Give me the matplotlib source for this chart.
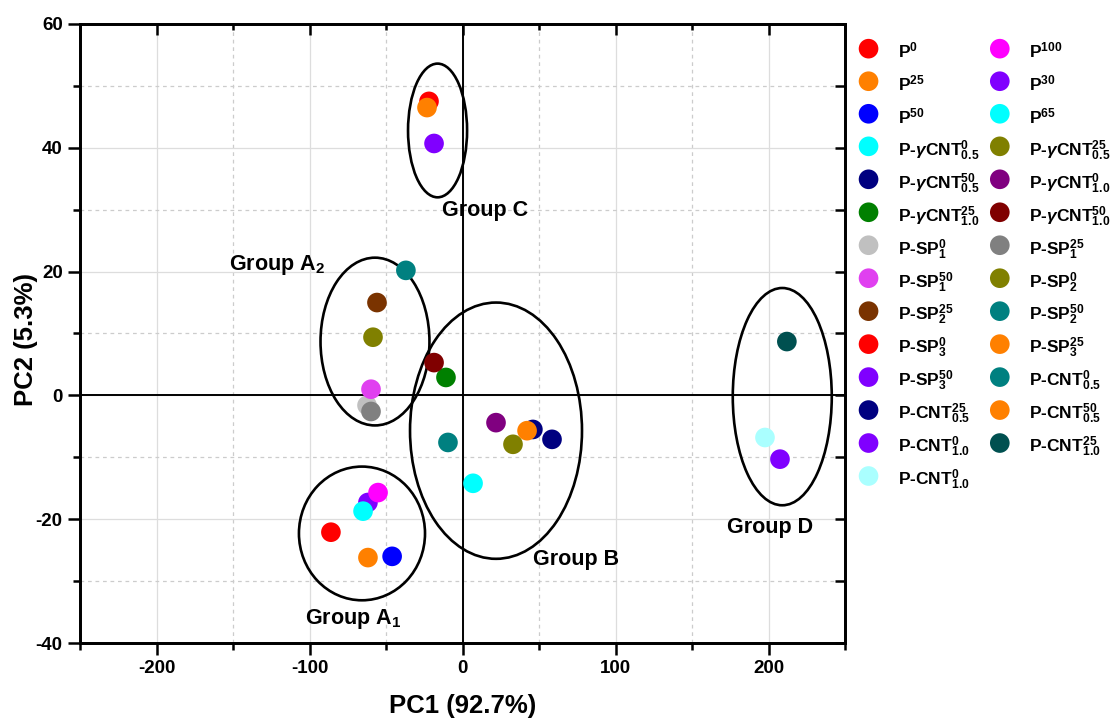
import matplotlib
matplotlib.use('Agg')
import matplotlib.pyplot as plt
from matplotlib.patches import Ellipse
from matplotlib.ticker import MultipleLocator

plt.rcParams['font.family'] = ['Liberation Sans', 'DejaVu Sans']
plt.rcParams['font.weight'] = 'bold'
plt.rcParams['axes.labelweight'] = 'bold'
plt.rcParams['axes.unicode_minus'] = False
plt.rcParams['mathtext.fontset'] = 'custom'
plt.rcParams['mathtext.rm'] = 'Liberation Sans:bold'
plt.rcParams['mathtext.bf'] = 'Liberation Sans:bold'
plt.rcParams['mathtext.it'] = 'Liberation Sans:italic:bold'

# samples, in legend order (column 1 then column 2)
labels = [
    'P$^{0}$', 'P$^{25}$', 'P$^{50}$',
    r'P-$\gamma$CNT$^{0}_{0.5}$', r'P-$\gamma$CNT$^{50}_{0.5}$', r'P-$\gamma$CNT$^{25}_{1.0}$',
    'P-SP$^{0}_{1}$', 'P-SP$^{50}_{1}$', 'P-SP$^{25}_{2}$', 'P-SP$^{0}_{3}$', 'P-SP$^{50}_{3}$',
    'P-CNT$^{25}_{0.5}$', 'P-CNT$^{0}_{1.0}$', 'P-CNT$^{0}_{1.0}$',
    'P$^{100}$', 'P$^{30}$', 'P$^{65}$',
    r'P-$\gamma$CNT$^{25}_{0.5}$', r'P-$\gamma$CNT$^{0}_{1.0}$', r'P-$\gamma$CNT$^{50}_{1.0}$',
    'P-SP$^{25}_{1}$', 'P-SP$^{0}_{2}$', 'P-SP$^{50}_{2}$', 'P-SP$^{25}_{3}$',
    'P-CNT$^{0}_{0.5}$', 'P-CNT$^{50}_{0.5}$', 'P-CNT$^{25}_{1.0}$',
]
colors = [
    '#ff0000', '#ff8000', '#0000ff',
    '#00ffff', '#000080', '#008000',
    '#c0c0c0', '#e040f0', '#7a3300', '#ff0000', '#8000ff',
    '#000080', '#8000ff', '#aaffff',
    '#ff00ff', '#8000ff', '#00ffff',
    '#808000', '#800080', '#800000',
    '#808080', '#808000', '#008080', '#ff8000',
    '#008080', '#ff8000', '#005050',
]
pc1 = [
    -86.0, -61.8, -46.0,
    6.9, 46.0, -10.8,
    -62.4, -59.8, -55.9, -21.9, -18.6,
    58.5, 207.5, 197.7,
    -55.2, -61.8, -65.0,
    33.0, 21.9, -18.6,
    -59.8, -58.5, -37.0, -23.2,
    -9.5, 42.2, 212.0,
]
pc2 = [
    -22.1, -26.2, -26.0,
    -14.2, -5.5, 2.9,
    -1.6, 1.0, 15.0, 47.5, 40.7,
    -7.1, -10.3, -6.8,
    -15.7, -17.3, -18.7,
    -7.9, -4.4, 5.3,
    -2.6, 9.4, 20.2, 46.5,
    -7.6, -5.7, 8.7,
]

# cluster ellipses
group_names = ['Group C', 'Group A$_2$', 'Group B', 'Group A$_1$', 'Group D']
group_cx = [-16.3, -57.2, 21.9, -65.7, 209.0]
group_cy = [42.8, 8.7, -5.7, -22.3, -0.2]
group_w = [38.6, 71.2, 112.4, 82.4, 64.7]
group_h = [21.6, 27.1, 41.4, 21.6, 35.1]
label_x = [15.0, -121.0, 74.2, -71.6, 201.0]
label_y = [29.9, 21.0, -26.5, -36.2, -21.3]

fig = plt.figure(figsize=(11.17, 7.27), dpi=100)
ax = fig.add_axes([80 / 1117, 1 - 643 / 727, 765 / 1117, 619 / 727])

ax.set_xlim(-250, 250)
ax.set_ylim(-40, 60)
ax.xaxis.set_major_locator(MultipleLocator(100))
ax.xaxis.set_minor_locator(MultipleLocator(50))
ax.yaxis.set_major_locator(MultipleLocator(20))
ax.yaxis.set_minor_locator(MultipleLocator(10))

ax.grid(which='major', color='#dddddd', lw=0.9, ls='-', zorder=0)
ax.grid(which='minor', color='#cccccc', lw=0.9, ls=(0, (3, 3)), zorder=0)
ax.set_axisbelow(True)

ax.axhline(0, color='black', lw=1.4, zorder=1)
ax.axvline(0, color='black', lw=1.4, zorder=1)

for cx, cy, w, h in zip(group_cx, group_cy, group_w, group_h):
    ax.add_patch(Ellipse((cx, cy), w, h, fill=False, ec='black', lw=1.9, zorder=2))
for name, tx, ty in zip(group_names, label_x, label_y):
    ax.text(tx, ty, name, fontsize=15.5, fontweight='bold', ha='center', va='center', zorder=4)

# P100 sits on top of P30 in the original
draw_order = sorted(range(len(labels)), key=lambda i: labels[i] == 'P$^{100}$')
handles = [None] * len(labels)
for i in draw_order:
    handles[i] = ax.scatter(pc1[i], pc2[i], s=200, color=colors[i], edgecolors='none',
                            label=labels[i], zorder=3)

for side in ['left', 'right', 'top', 'bottom']:
    ax.spines[side].set_linewidth(1.8)
ax.tick_params(which='both', direction='out', width=1.8, labelsize=13.5, pad=4,
               top=False, right=False)
ax.tick_params(which='major', length=8.5)
ax.tick_params(which='minor', length=5)

# inward ticks on top and right edges
ax_top = ax.twiny()
ax_top.set_xlim(ax.get_xlim())
ax_top.xaxis.set_major_locator(MultipleLocator(100))
ax_top.xaxis.set_minor_locator(MultipleLocator(50))
ax_top.tick_params(which='both', direction='in', width=1.8, labeltop=False)
ax_top.tick_params(which='major', length=8)
ax_top.tick_params(which='minor', length=4)
ax_right = ax.twinx()
ax_right.set_ylim(ax.get_ylim())
ax_right.yaxis.set_major_locator(MultipleLocator(20))
ax_right.yaxis.set_minor_locator(MultipleLocator(10))
ax_right.tick_params(which='both', direction='in', width=1.8, length=7, labelright=False)
for twin in (ax_top, ax_right):
    for sp in twin.spines.values():
        sp.set_linewidth(1.8)

ax.set_xlabel('PC1 (92.7%)', fontsize=18.5)
ax.set_ylabel('PC2 (5.3%)', fontsize=18.5)
ax.xaxis.set_label_coords(0.5, -0.082)
ax.yaxis.set_label_coords(-0.055, 0.49)

fig.legend(handles, labels, ncol=2, loc='upper left', bbox_to_anchor=(859 / 1117, 1 - 40 / 727),
           frameon=False, fontsize=12.5, handlelength=1.1, handleheight=1.8, handletextpad=1.15,
           columnspacing=0.62, labelspacing=0.46, borderpad=0, borderaxespad=0, scatterpoints=1)

fig.savefig('out.png', dpi=100)
